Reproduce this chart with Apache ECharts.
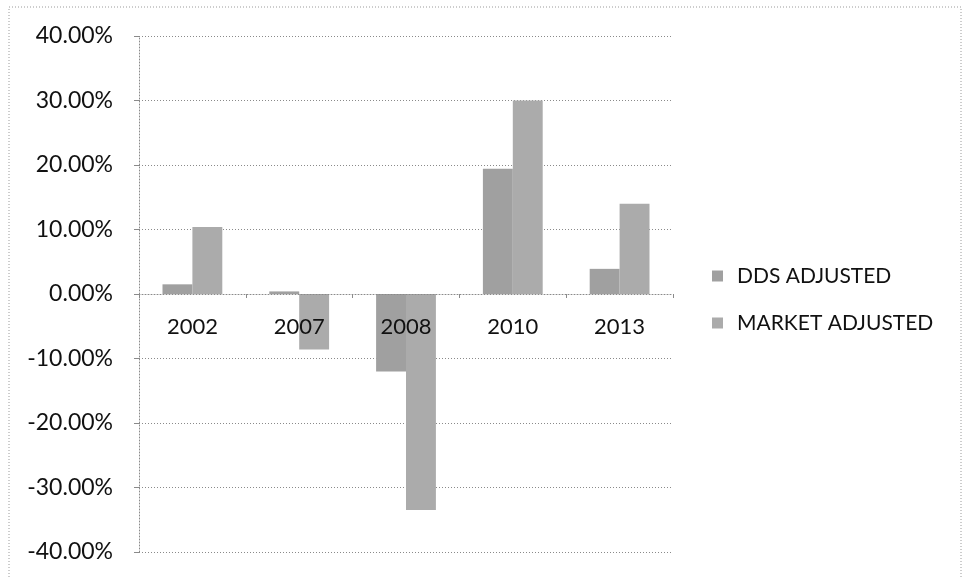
<!DOCTYPE html>
<html>
<head>
<meta charset="utf-8">
<script src="https://cdn.jsdelivr.net/npm/echarts@6/dist/echarts.min.js"></script>
<style>
  html, body { margin: 0; padding: 0; background: #fff; }
  #chart { width: 968px; height: 579px; }
</style>
</head>
<body>
<div id="chart"></div>
<script>
// Returns (%) by year
const years = ['2002', '2007', '2008', '2010', '2013'];
const ddsAdjusted = [1.5, 0.4, -12.0, 19.4, 3.9];
const marketAdjusted = [10.4, -8.6, -33.5, 30.0, 14.0];
const seriesNames = ['DDS ADJUSTED', 'MARKET ADJUSTED'];
const yTicks = { min: -40, max: 40, step: 10 };

const FONT = 'Lato, "Open Sans", sans-serif';
const GRID = { left: 139, top: 36, width: 534, height: 516 };
// vertical position of the zero line inside the plot area
const zeroY = GRID.top + GRID.height * (yTicks.max / (yTicks.max - yTicks.min));

const chart = echarts.init(document.getElementById('chart'), null, { renderer: 'canvas' });

chart.setOption({
  backgroundColor: '#ffffff',
  animation: false,
  textStyle: { fontFamily: FONT },
  graphic: [{
    type: 'rect',
    shape: { x: 9, y: 7, width: 952, height: 575 },
    style: { fill: 'none', stroke: '#9a9a9a', lineWidth: 1, lineDash: [1, 2] },
    silent: true
  }],
  legend: {
    orient: 'vertical',
    left: 707,
    top: 259,
    itemWidth: 11,
    itemHeight: 11,
    itemGap: 23,
    icon: 'rect',
    textStyle: { fontSize: 21, lineHeight: 24, color: '#111', fontFamily: FONT, padding: [0, 0, 0, 9] },
    data: seriesNames
  },
  grid: Object.assign({ containLabel: false, outerBoundsMode: 'none' }, GRID),
  xAxis: [{
    type: 'category',
    data: years,
    position: 'bottom',
    offset: -(GRID.top + GRID.height - zeroY),
    z: 10,
    axisLine: { onZero: false, lineStyle: { color: '#8a8a8a', type: [1, 2] } },
    axisTick: { show: true, length: 4, lineStyle: { color: '#8a8a8a' } },
    axisLabel: { fontSize: 22, color: '#111', margin: 22, fontFamily: FONT },
    splitLine: { show: false }
  }],
  yAxis: {
    type: 'value',
    min: yTicks.min,
    max: yTicks.max,
    interval: yTicks.step,
    axisLine: { show: true, lineStyle: { color: '#8a8a8a', type: [1, 2] } },
    axisTick: { show: true, length: 5, lineStyle: { color: '#8a8a8a' } },
    axisLabel: {
      fontSize: 23, color: '#111', margin: 26, fontFamily: FONT,
      formatter: v => v.toFixed(2) + '%'
    },
    splitLine: { show: true, lineStyle: { color: '#8a8a8a', type: [1, 2], width: 1 } }
  },
  series: [
    {
      name: seriesNames[0],
      type: 'bar',
      data: ddsAdjusted,
      barGap: '0%',
      barCategoryGap: '44%',
      itemStyle: { color: '#a0a0a0' }
    },
    {
      name: seriesNames[1],
      type: 'bar',
      data: marketAdjusted,
      barGap: '0%',
      barCategoryGap: '44%',
      itemStyle: { color: '#ababab' }
    }
  ]
});
</script>
</body>
</html>
